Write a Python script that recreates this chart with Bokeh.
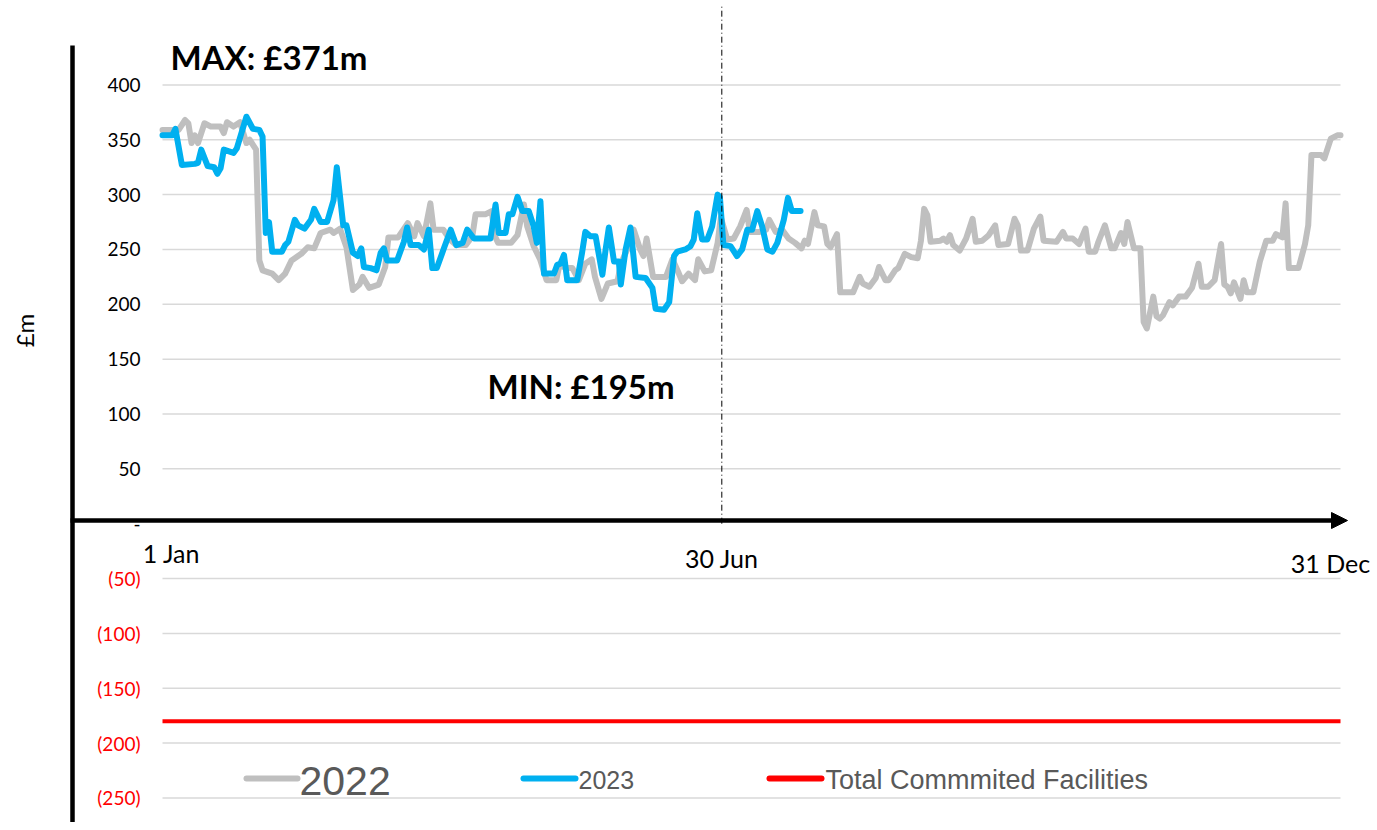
from bokeh.plotting import figure
from bokeh.models import Range1d, Arrow, NormalHead
from bokeh.core.properties import value
from bokeh.embed import file_html
from bokeh.resources import INLINE

# ---------------- data ----------------
# day index within the year (0 = 1 Jan, 365 = 31 Dec), values in £m
days_2022 = [0, 5, 7, 8, 9, 10, 11, 13, 15, 18, 19, 20, 22, 24, 26, 27, 29, 30, 31, 34, 36, 38, 40, 43, 45, 47,
             49, 52, 53, 55, 57, 59, 61, 62, 64, 67, 69, 70, 73, 76, 78, 79, 81, 83, 84, 87, 89, 91, 94, 96, 97,
             100, 102, 103, 104, 108, 110, 112, 113, 115, 117, 119, 122, 123, 125, 127, 129, 131, 133, 134, 136,
             138, 141, 142, 144, 146, 148, 149, 150, 152, 156, 158, 160, 161, 163, 165, 166, 168, 170, 172, 173,
             175, 177, 179, 181, 182, 185, 187, 188, 190, 192, 194, 196, 198, 199, 200, 202, 203, 205, 206, 207,
             209, 210, 214, 216, 217, 219, 221, 222, 224, 225, 227, 228, 230, 232, 234, 235, 236, 237, 238, 241,
             242, 243, 244, 245, 247, 249, 251, 252, 254, 256, 258, 259, 262, 264, 265, 266, 268, 270, 272, 273,
             277, 279, 280, 282, 284, 286, 287, 289, 290, 292, 294, 295, 297, 298, 299, 301, 303, 304, 305, 307,
             308, 309, 310, 312, 313, 315, 317, 319, 321, 322, 324, 326, 328, 329, 330, 331, 332, 334, 335, 336,
             338, 340, 342, 344, 345, 347, 348, 349, 352, 354, 355, 356, 359, 360, 362, 364, 365]
vals_2022 = [359, 359, 368, 365, 347, 354, 347, 365, 362, 362, 356, 366, 362, 366, 347, 350, 341, 240, 231, 228,
             222, 228, 240, 246, 252, 251, 265, 268, 265, 269, 252, 213, 218, 225, 215, 218, 234, 261, 261, 274,
             262, 274, 262, 292, 268, 268, 259, 254, 254, 262, 282, 282, 285, 262, 256, 256, 263, 291, 271, 253,
             241, 222, 222, 236, 233, 233, 222, 237, 241, 225, 205, 219, 221, 237, 250, 268, 250, 244, 260, 225,
             225, 241, 228, 221, 228, 222, 241, 230, 231, 256, 279, 259, 260, 271, 286, 266, 266, 268, 277, 266,
             268, 260, 256, 251, 258, 255, 284, 272, 271, 255, 252, 264, 211, 211, 225, 219, 216, 224, 234, 222,
             222, 231, 233, 246, 243, 242, 258, 287, 281, 257, 258, 260, 257, 263, 254, 249, 260, 278, 257, 258,
             263, 272, 254, 255, 278, 272, 249, 249, 269, 280, 258, 257, 266, 260, 260, 255, 269, 248, 248, 257,
             272, 251, 251, 265, 255, 275, 251, 251, 184, 178, 207, 189, 187, 190, 202, 199, 207, 207, 215, 237,
             216, 216, 222, 255, 218, 216, 210, 220, 205, 222, 211, 211, 239, 258, 258, 264, 261, 292, 233, 233,
             255, 272, 336, 336, 333, 351, 354, 354]

days_2023 = [0, 3, 4, 6, 10, 11, 12, 14, 16, 17, 18, 19, 22, 23, 26, 28, 30, 31, 32, 33, 34, 37, 38, 39, 41, 42,
             44, 46, 47, 49, 51, 53, 54, 56, 57, 59, 60.5, 61.6, 62.4, 64.5, 66.3, 67.6, 68.6, 69.6, 72.7, 74.8,
             75.8, 76.9, 79.4, 81, 82.5, 83.6, 85, 87.2, 89.3, 91, 93, 94.4, 96.5, 101.6, 103.2, 104.2, 106.3,
             107.3, 108.4, 110, 111.5, 113.5, 115, 116, 117.1, 118.2, 121.3, 122.3, 123.3, 124.4, 125.4, 128.5,
             130, 131, 132.6, 134.2, 136.3, 137.3, 138.3, 139.9, 141.4, 142, 143.5, 145, 146.6, 149.7, 151.8,
             152.8, 155.4, 157, 158.5, 159.5, 162, 163.6, 164.6, 165.7, 167.2, 168.8, 170.3, 172, 172.7, 173.8,
             176, 178, 179.6, 181.2, 182.7, 184.3, 185.8, 187.4, 189, 190.5, 192.5, 193.8, 195, 197.7]
vals_2023 = [354, 354, 360, 327, 328, 329, 341, 326, 325, 319, 324, 341, 338, 342, 371, 360, 359, 353, 265, 275,
             248, 248, 254, 257, 277, 272, 269, 277, 287, 275, 275, 295, 325, 272, 272, 247, 244, 251, 234, 233,
             231, 247, 251, 240, 240, 257, 270, 254, 254, 250, 268, 233, 233, 251, 268, 254, 256, 268, 260, 260,
             291, 265, 265, 282, 282, 298, 285, 285, 271, 256, 294, 228, 228, 236, 237, 245, 222, 222, 247, 266,
             262, 262, 227, 250, 270, 239, 239, 218, 250, 270, 225, 224, 215, 196, 195, 202, 244, 248, 250, 253,
             259, 283, 259, 259, 271, 300, 298, 254, 253, 244, 250, 268, 268, 285, 271, 250, 248, 256, 277, 297,
             285, 285]

facility_level = -180
year_start, year_end, mid_year = 0, 365, 173.3

y_ticks = [400, 350, 300, 250, 200, 150, 100, 50, 0, -50, -100, -150, -200, -250]
x_tick_labels = ["1 Jan", "30 Jun", "31 Dec"]
series_names = ["2022", "2023", "Total Commmited Facilities"]
max_text = "MAX: £371m"
min_text = "MIN: £195m"

# ---------------- page-pixel <-> data helpers (for decorations) ----------------
X0, K = 162.0, 1178.0 / 365.0
Y0, S = 523.2, 54.85 / 50.0
def dx(px):
    return (px - X0) / K
def dy(py):
    return (Y0 - py) / S

W, H = 1377, 822
p = figure(width=W, height=H, x_range=Range1d(dx(0), dx(W)), y_range=Range1d(dy(H), dy(0)),
           output_backend="svg", toolbar_location=None, x_axis_type=None, y_axis_type=None,
           min_border=0, outline_line_color=None, background_fill_color="white")

GRID = "#D9D9D9"
GREY = "#BFBFBF"
BLUE = "#00B0F0"
RED = "#FF0000"
TXT = "#595959"

# gridlines
grid_vals = [t for t in y_ticks if t != 0]
p.segment(x0=[year_start] * len(grid_vals), x1=[year_end] * len(grid_vals), y0=grid_vals, y1=grid_vals,
          line_color=GRID, line_width=1.5)

# y tick labels
def fmt(v):
    if v == 0:
        return "-"
    if v < 0:
        return "(%d)" % (-v)
    return "%d" % v
p.text(x=[dx(140)] * len(y_ticks), y=y_ticks, text=[fmt(v) for v in y_ticks],
       text_color=["black" if v >= 0 else RED for v in y_ticks],
       text_font=value("Lato"), text_font_size="19px", text_align="right", text_baseline="middle")

# facility line
p.line([year_start, year_end], [facility_level, facility_level], line_color=RED, line_width=4)

# data lines
p.line(days_2022, vals_2022, line_color=GREY, line_width=6, line_join="round", line_cap="round")
p.line(days_2023, vals_2023, line_color=BLUE, line_width=6, line_join="round", line_cap="round")

# 30 Jun dash-dot marker
p.line([mid_year, mid_year], [0, dy(5)], line_color="black", line_width=1, line_dash="6 3 1 3")

# axes drawn as shapes
p.line([dx(72), dx(72)], [dy(45), dy(H)], line_color="black", line_width=4.5)
p.add_layout(Arrow(end=NormalHead(size=16, fill_color="black", line_color="black"),
                   x_start=dx(70), y_start=dy(520), x_end=dx(1347), y_end=dy(520),
                   line_color="black", line_width=4.5))

# x labels
p.text(x=[year_start + dx(171) - dx(162), mid_year, year_end - (dx(1340) - dx(1330))],
       y=[dy(552), dy(557), dy(562)], text=x_tick_labels, text_color="black",
       text_font=value("Lato"), text_font_size="25px", text_align="center", text_baseline="middle")

# max / min annotations
p.text(x=[dx(170)], y=[dy(56)], text=[max_text], text_font=value("Lato"), text_font_style="bold",
       text_font_size="33px", text_align="left", text_baseline="middle", text_color="black")
p.text(x=[dx(487)], y=[dy(385)], text=[min_text], text_font=value("Lato"), text_font_style="bold",
       text_font_size="33px", text_align="left", text_baseline="middle", text_color="black")

# y axis title
p.text(x=[dx(24)], y=[dy(330)], text=["£m"], angle=1.5708, text_font=value("Lato"),
       text_font_size="24px", text_align="center", text_baseline="middle", text_color="black")

# manual legend
leg_y = dy(778)
p.line([dx(246), dx(297)], [leg_y, leg_y], line_color=GREY, line_width=6, line_cap="round")
p.line([dx(523), dx(575)], [leg_y, leg_y], line_color=BLUE, line_width=6, line_cap="round")
p.line([dx(769), dx(821)], [leg_y, leg_y], line_color=RED, line_width=6, line_cap="round")
p.text(x=[dx(299)], y=[dy(780)], text=[series_names[0]], text_font=value("Liberation Sans"),
       text_font_size="41px", text_align="left", text_baseline="middle", text_color=TXT)
p.text(x=[dx(578)], y=[dy(779)], text=[series_names[1]], text_font=value("Liberation Sans"),
       text_font_size="25px", text_align="left", text_baseline="middle", text_color=TXT)
p.text(x=[dx(825)], y=[dy(779)], text=[series_names[2]], text_font=value("Liberation Sans"),
       text_font_size="27px", text_align="left", text_baseline="middle", text_color=TXT)

open("out.html", "w").write(file_html(p, INLINE))
